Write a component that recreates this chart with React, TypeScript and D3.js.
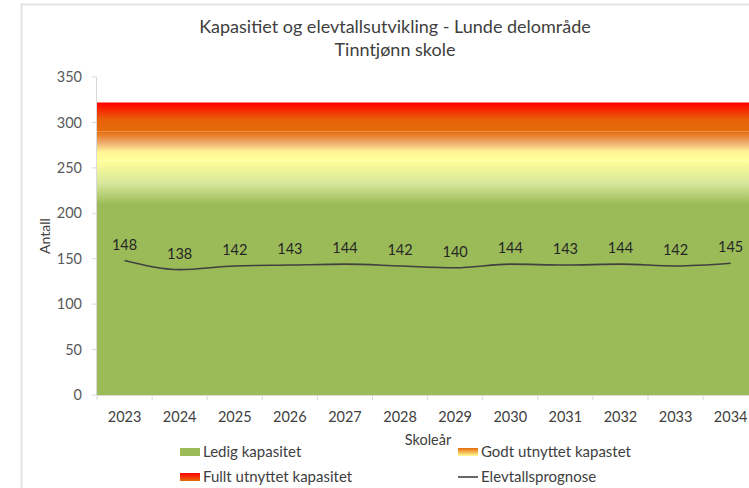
import React from "react";
import * as d3 from "d3";

const years = ["2023","2024","2025","2026","2027","2028","2029","2030","2031","2032","2033","2034"];
const elevtall = [148,138,142,143,144,142,140,144,143,144,142,145];
const yTicks = [0,50,100,150,200,250,300,350];
// capacity bands (stacked)
const ledigKapasitet = 258;
const godtUtnyttet = 32;
const fulltUtnyttet = 32;
const title1 = "Kapasitiet og elevtallsutvikling - Lunde delområde";
const title2 = "Tinntjønn skole";

const W = 749, H = 488;
const FONT = "Lato, 'Open Sans', sans-serif";

export default function App() {
  const x = d3.scaleBand<string>().domain(years).range([97, 97 + 12 * 55.1]).padding(0);
  const y = d3.scaleLinear().domain([0, 350]).range([395, 77]);
  const [x0, x1] = x.range();

  const b1 = ledigKapasitet;
  const b2 = b1 + godtUtnyttet;
  const b3 = b2 + fulltUtnyttet;
  const bands = [
    { id: "g-ledig", lo: 0, hi: b1 },
    { id: "g-godt", lo: b1, hi: b2 },
    { id: "g-fullt", lo: b2, hi: b3 },
  ];
  const area = d3.area<number>().x((d) => d).y0(0).y1(0);
  const line = d3
    .line<number>()
    .x((_, i) => (x(years[i]) as number) + x.bandwidth() / 2)
    .y((d) => y(d))
    .curve(d3.curveMonotoneX);

  return (
    <svg width={W} height={H} style={{ position: "absolute", left: 0, top: 0, background: "#fff" }}>
      <defs>
        <linearGradient id="g-ledig" gradientUnits="userSpaceOnUse" x1="0" x2="0" y1={y(0)} y2={y(b1)}>
          <stop offset="0" stopColor="#9bbb59" />
          <stop offset={210 / b1} stopColor="#9bbb59" />
          <stop offset="0.9" stopColor="#d6e69a" />
          <stop offset="1" stopColor="#ffff99" />
        </linearGradient>
        <linearGradient id="g-godt" gradientUnits="userSpaceOnUse" x1="0" x2="0" y1={y(b1)} y2={y(b2)}>
          <stop offset="0" stopColor="#ffff99" />
          <stop offset="0.3" stopColor="#fff596" />
          <stop offset="0.6" stopColor="#efae72" />
          <stop offset="1" stopColor="#e46c0a" />
        </linearGradient>
        <linearGradient id="g-fullt" gradientUnits="userSpaceOnUse" x1="0" x2="0" y1={y(b2)} y2={y(b3)}>
          <stop offset="0" stopColor="#e46c0a" />
          <stop offset="0.4" stopColor="#e8620a" />
          <stop offset="0.85" stopColor="#fb1800" />
          <stop offset="1" stopColor="#ff0000" />
        </linearGradient>
        <linearGradient id="l-godt" x1="0" x2="0" y1="0" y2="1">
          <stop offset="0" stopColor="#e46c0a" />
          <stop offset="1" stopColor="#ffff99" />
        </linearGradient>
        <linearGradient id="l-fullt" x1="0" x2="0" y1="0" y2="1">
          <stop offset="0" stopColor="#ff0000" />
          <stop offset="1" stopColor="#e46c0a" />
        </linearGradient>
      </defs>

      {/* chart frame */}
      <rect x={21.5} y={4.5} width={800} height={600} fill="none" stroke="#e3e3e3" strokeWidth={2} />

      {/* title */}
      <text x={395} y={33} textAnchor="middle" fontFamily={FONT} fontSize={18} fill="#404040">{title1}</text>
      <text x={395} y={56} textAnchor="middle" fontFamily={FONT} fontSize={18} fill="#404040">{title2}</text>

      {/* capacity areas */}
      {bands.map((b) => (
        <path
          key={b.id}
          d={area.y0(y(b.lo)).y1(y(b.hi))([x0, x1]) as string}
          fill={`url(#${b.id})`}
        />
      ))}

      {/* axes */}
      <line x1={96.5} x2={96.5} y1={y(350)} y2={y(0)} stroke="#d9d9d9" />
      {yTicks.map((t) => (
        <g key={t}>
          <line x1={92} x2={96.5} y1={y(t)} y2={y(t)} stroke="#d9d9d9" />
          <text x={82} y={y(t)} dy="0.35em" textAnchor="end" fontFamily={FONT} fontSize={14.5} fill="#595959">{t}</text>
        </g>
      ))}
      <line x1={x0} x2={x1} y1={y(0) + 0.5} y2={y(0) + 0.5} stroke="#d9d9d9" />
      {years.map((yr) => (
        <g key={yr}>
          <line x1={(x(yr) as number)} x2={(x(yr) as number)} y1={y(0)} y2={y(0) + 5} stroke="#d9d9d9" />
          <text x={(x(yr) as number) + x.bandwidth() / 2} y={417} dy="0.35em" textAnchor="middle" fontFamily={FONT} fontSize={14.5} fill="#404040">{yr}</text>
        </g>
      ))}

      {/* line */}
      <path d={line(elevtall) as string} fill="none" stroke="#404040" strokeWidth={1.6} />
      {elevtall.map((v, i) => (
        <text key={i} x={(x(years[i]) as number) + x.bandwidth() / 2} y={y(v) - 16} dy="0.35em" textAnchor="middle" fontFamily={FONT} fontSize={14.5} fill="#262626">{v}</text>
      ))}

      {/* axis titles */}
      <text transform={`translate(45,236) rotate(-90)`} textAnchor="middle" dy="0.35em" fontFamily={FONT} fontSize={14} fill="#404040">Antall</text>
      <text x={428} y={440} textAnchor="middle" dy="0.35em" fontFamily={FONT} fontSize={14.5} fill="#404040">Skoleår</text>

      {/* legend */}
      <rect x={180} y={448} width={20} height={8} fill="#9bbb59" />
      <text x={203} y={452} dy="0.35em" fontFamily={FONT} fontSize={15} fill="#404040">Ledig kapasitet</text>
      <rect x={458} y={448} width={20} height={8} fill="url(#l-godt)" />
      <text x={481} y={452} dy="0.35em" fontFamily={FONT} fontSize={15} fill="#404040">Godt utnyttet kapastet</text>
      <rect x={180} y={473} width={20} height={8} fill="url(#l-fullt)" />
      <text x={203} y={477} dy="0.35em" fontFamily={FONT} fontSize={15} fill="#404040">Fullt utnyttet kapasitet</text>
      <line x1={458} x2={478} y1={477} y2={477} stroke="#404040" strokeWidth={1.6} />
      <text x={481} y={477} dy="0.35em" fontFamily={FONT} fontSize={15} fill="#404040">Elevtallsprognose</text>
    </svg>
  );
}
